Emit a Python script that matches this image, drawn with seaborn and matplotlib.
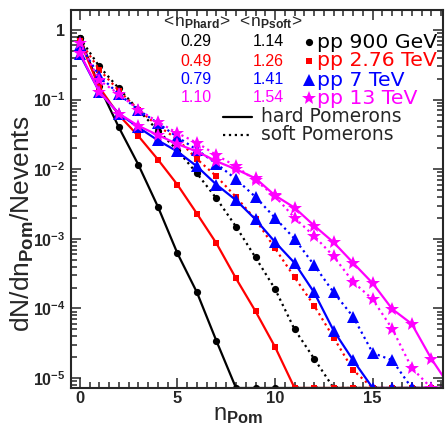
import numpy as np
import pandas as pd
import matplotlib
matplotlib.use("Agg")
import matplotlib.pyplot as plt
import matplotlib.ticker as mticker
import seaborn as sns

# number of Pomerons
n_pom = list(range(20))

# 0 = empty bin (ROOT draws it on the lower frame)
hard_900 = [0.78, 0.155, 0.040, 0.0116, 0.0029, 6.2e-4, 1.7e-4, 3.4e-5, 0, 0,
            0, 0, 0, 0, 0, 0, 0, 0, 0, 0]
soft_900 = [0.77, 0.30, 0.145, 0.071, 0.036, 0.0187, 0.0087, 0.0038, 0.0015, 5.4e-4,
            1.9e-4, 5.0e-5, 1.9e-5, 0, 0, 0, 0, 0, 0, 0]
hard_276 = [0.70, 0.15, 0.060, 0.030, 0.0138, 0.0060, 0.0023, 8.6e-4, 2.7e-4, 9.1e-5,
            2.8e-5, 0, 0, 0, 0, 0, 0, 0, 0, 0]
soft_276 = [0.70, 0.27, 0.135, 0.072, 0.042, 0.027, 0.014, 0.0079, 0.0040, 0.0019,
            7.3e-4, 2.8e-4, 1.1e-4, 3.8e-5, 1.3e-5, 0, 0, 0, 0, 0]
hard_7 = [0.45, 0.13, 0.063, 0.040, 0.026, 0.018, 0.011, 0.0060, 0.0036, 0.0019,
          9.0e-4, 4.5e-4, 1.7e-4, 4.8e-5, 1.8e-5, 0, 0, 0, 0, 0]
soft_7 = [0.61, 0.22, 0.12, 0.071, 0.046, 0.029, 0.019, 0.012, 0.0072, 0.0040,
          0.0020, 0.0010, 4.2e-4, 1.7e-4, 7.6e-5, 2.3e-5, 1.8e-5, 0, 0, 0]
hard_13 = [0.47, 0.13, 0.063, 0.042, 0.031, 0.023, 0.018, 0.013, 0.010, 0.0074,
           0.0042, 0.0028, 0.00155, 8.9e-4, 4.5e-4, 2.3e-4, 9.8e-5, 6.0e-5, 1.9e-5, 0]
soft_13 = [0.66, 0.19, 0.12, 0.072, 0.048, 0.033, 0.024, 0.016, 0.011, 0.0069,
           0.0041, 0.0020, 0.0011, 5.6e-4, 2.4e-4, 1.35e-4, 5.1e-5, 1.4e-5, 0, 0]

energies = ["pp 900 GeV", "pp 2.76 TeV", "pp 7 TeV", "pp 13 TeV"]
mean_hard = ["0.29", "0.49", "0.79", "1.10"]
mean_soft = ["1.14", "1.26", "1.41", "1.54"]
hard_sets = [hard_900, hard_276, hard_7, hard_13]
soft_sets = [soft_900, soft_276, soft_7, soft_13]

colors = ["black", "#ff0000", "#0000ff", "#ff00ff"]
markers = ["o", "s", "^", "*"]
msizes = [5.2, 5.0, 8, 10]

ymin, ymax = 7.2e-6, 1.94

sns.set_style("ticks")
plt.rcParams["font.family"] = ["Liberation Sans", "DejaVu Sans"]
plt.rcParams["mathtext.fontset"] = "custom"
plt.rcParams["mathtext.rm"] = "Liberation Sans"
plt.rcParams["mathtext.bf"] = "Liberation Sans:bold"
plt.rcParams["mathtext.it"] = "Liberation Sans:italic"

fig = plt.figure(figsize=(4.45, 4.26), dpi=100)
ax = fig.add_axes([71 / 445, 38 / 426, 372 / 445, 378 / 426])

for hard, soft, c, m, ms in zip(hard_sets, soft_sets, colors, markers, msizes):
    for vals, ls in [(hard, "-"), (soft, ":")]:
        y = np.maximum(np.array(vals), ymin)
        sns.lineplot(x=n_pom, y=y, ax=ax, color=c, marker=m, markersize=ms,
                     markeredgewidth=0, linestyle=ls, linewidth=1.6,
                     estimator=None, sort=False)

ax.set_yscale("log")
ax.set_xlim(-0.45, 18.6)
ax.set_ylim(ymin, ymax)
ax.set_xlabel("")
ax.set_ylabel("")

ax.xaxis.set_major_locator(mticker.MultipleLocator(5))
ax.xaxis.set_minor_locator(mticker.MultipleLocator(0.5))
ax.yaxis.set_major_locator(mticker.FixedLocator([1e-5, 1e-4, 1e-3, 1e-2, 1e-1, 1]))
ax.yaxis.set_minor_locator(mticker.LogLocator(base=10, subs=np.arange(2, 10), numticks=20))
ax.yaxis.set_minor_formatter(mticker.NullFormatter())


def ylab(v, pos):
    e = int(round(np.log10(v)))
    if e == 0:
        return "1"
    return r"$\mathbf{10^{%d}}$" % e


ax.yaxis.set_major_formatter(mticker.FuncFormatter(ylab))
ax.tick_params(which="both", direction="in", top=True, right=True, width=1.1)
ax.tick_params(which="major", length=7.5)
ax.tick_params(which="minor", length=4)
ax.tick_params(axis="x", labelsize=12, pad=2)
ax.tick_params(axis="y", labelsize=11.5, pad=4)
for lbl in ax.get_xticklabels() + ax.get_yticklabels():
    lbl.set_fontweight("bold")
for sp in ax.spines.values():
    sp.set_linewidth(1.5)

# axis titles
fig.text(22 / 445, 0.475, r"dN/dn$_{\mathbf{Pom}}$/Nevents", rotation=90,
         ha="center", va="center", fontsize=19)
fig.text(263 / 445, 1 - 420 / 426, r"n$_{\mathbf{Pom}}$", ha="right",
         va="baseline", fontsize=17)


def fx(px):
    return (px - 71) / 372


def fy(py):
    return (388 - py) / 378


# text legend
ax.text(fx(196), fy(23), r"$<\!$n$_{\mathbf{Phard}}\!>$", transform=ax.transAxes,
        ha="center", va="center", fontsize=12.5)
ax.text(fx(270), fy(23), r"$<\!$n$_{\mathbf{Psoft}}\!>$", transform=ax.transAxes,
        ha="center", va="center", fontsize=12.5)
rows = [42, 61, 80, 98]
for i, py in enumerate(rows):
    ax.text(fx(196), fy(py), mean_hard[i], transform=ax.transAxes, ha="center",
            va="center", fontsize=11.5, color=colors[i])
    ax.text(fx(268), fy(py), mean_soft[i], transform=ax.transAxes, ha="center",
            va="center", fontsize=11.5, color=colors[i])
    ax.plot([fx(309)], [fy(py)], transform=ax.transAxes, marker=markers[i],
            markersize=msizes[i], color=colors[i], markeredgewidth=0, clip_on=False)
    ax.text(fx(317), fy(py), energies[i], transform=ax.transAxes, ha="left",
            va="center", fontsize=14.7, color=colors[i], family="DejaVu Sans")

for py, ls, txt in [(117, "-", "hard Pomerons"), (135, ":", "soft Pomerons")]:
    ax.plot([fx(223), fx(252)], [fy(py), fy(py)], transform=ax.transAxes,
            color="black", linestyle=ls, linewidth=1.6)
    ax.text(fx(261), fy(py), txt, transform=ax.transAxes, ha="left",
            va="center", fontsize=13.4, family="DejaVu Sans")

fig.savefig("out.png", dpi=100)
